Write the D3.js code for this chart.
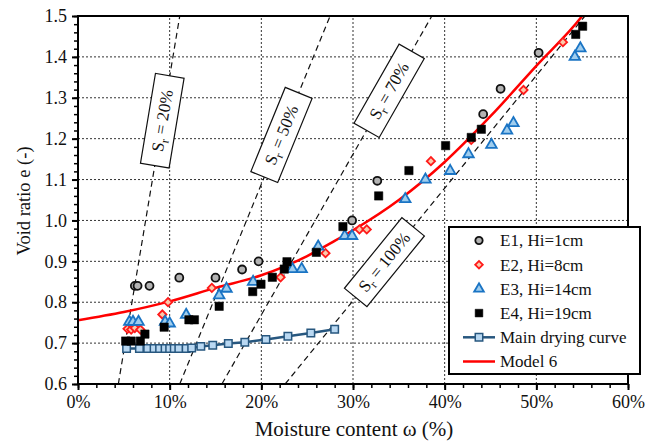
<!DOCTYPE html>
<html>
<head>
<meta charset="utf-8">
<script src="https://cdn.jsdelivr.net/npm/d3@7"></script>
<style>
body{margin:0;background:#fff;}
text{font-family:"Liberation Serif","Times New Roman",serif;fill:#111;}
</style>
</head>
<body>
<script>
// moisture content (%) , void ratio
var e1 = [[6.2,0.84],[6.5,0.84],[7.8,0.84],[11.05,0.86],[15.0,0.86],[17.9,0.88],[19.7,0.90],
          [29.9,1.0],[32.65,1.097],[44.2,1.26],[46.1,1.322],[50.25,1.41]];
var e2 = [[5.4,0.735],[5.8,0.733],[6.2,0.737],[6.8,0.733],[9.2,0.77],[9.82,0.80],[14.6,0.835],
          [22.1,0.861],[27.0,0.92],[30.7,0.978],[31.5,0.978],[38.5,1.145],[42.9,1.197],
          [48.6,1.319],[52.9,1.436]];
var e3 = [[5.6,0.752],[6.0,0.752],[6.6,0.752],[9.5,0.752],[10.0,0.748],[11.8,0.769],[15.4,0.817],
          [16.2,0.833],[19.1,0.85],[23.4,0.881],[24.4,0.881],[26.2,0.936],[29.1,0.962],[29.9,0.962],
          [35.7,1.052],[37.9,1.1],[40.6,1.121],[42.6,1.162],[45.1,1.185],[46.8,1.22],[47.5,1.238],
          [54.2,1.40],[54.8,1.421]];
var e4 = [[5.2,0.705],[5.8,0.705],[6.8,0.705],[7.3,0.722],[9.4,0.739],[12.1,0.757],[12.7,0.757],
          [15.4,0.79],[19.06,0.826],[19.96,0.844],[21.2,0.861],[22.5,0.881],[22.8,0.899],[26.0,0.922],
          [28.9,0.985],[32.8,1.06],[36.1,1.122],[40.1,1.183],[42.9,1.203],[44.0,1.223],
          [54.3,1.455],[55.05,1.475]];
var mainDrying = [[5.3,0.687],[6.7,0.687],[7.6,0.687],[8.3,0.687],[8.9,0.687],[9.5,0.687],[10.0,0.687],
          [10.5,0.687],[11.0,0.687],[11.8,0.687],[12.4,0.688],[13.4,0.692],[14.7,0.695],[16.4,0.699],
          [18.2,0.702],[20.5,0.709],[22.9,0.717],[25.4,0.725],[28.0,0.734]];
var model6 = [[0,0.756],[5,0.776],[10,0.802],[15,0.835],[20,0.866],[25,0.913],[28,0.95],[30,0.976],
          [35,1.05],[40,1.143],[45,1.255],[50,1.378],[55,1.5],[56,1.53]];
// saturation lines: w at e=0.6 and w at e=1.5, label position (e)
var srValues = [20,50,70,100];
var srW0 = [4.4,11.1,15.7,22.6];
var srW1 = [11.1,27.5,38.6,55.3];
var srLabelE = [1.244,1.209,1.317,0.898];
var xTicks = [0,10,20,30,40,50,60];
var yTicks = [0.6,0.7,0.8,0.9,1.0,1.1,1.2,1.3,1.4,1.5];
var legendNames = ["E1, Hi=1cm","E2, Hi=8cm","E3, Hi=14cm","E4, Hi=19cm","Main drying curve","Model 6"];

var svg = d3.select("body").append("svg").attr("width",656).attr("height",444);
var x = d3.scaleLinear().domain([0,60]).range([78,628]);
var y = d3.scaleLinear().domain([0.6,1.5]).range([384,16]);

svg.append("defs").append("clipPath").attr("id","plot")
    .append("rect").attr("x",78).attr("y",16).attr("width",550).attr("height",368);

// grid
var grid = svg.append("g").attr("stroke","#333").attr("stroke-width",1).attr("stroke-dasharray","2,2");
grid.selectAll(".gx").data(xTicks.slice(1,-1)).enter().append("line")
    .attr("x1",d=>x(d)).attr("x2",d=>x(d)).attr("y1",y(0.6)).attr("y2",y(1.5));
grid.selectAll(".gy").data(yTicks.slice(1,-1)).enter().append("line")
    .attr("y1",d=>y(d)).attr("y2",d=>y(d)).attr("x1",x(0)).attr("x2",x(60));

// minor ticks
svg.append("g").attr("transform","translate(0,384)")
    .call(d3.axisBottom(x).tickValues(d3.range(0,61,2)).tickSize(4).tickFormat(""))
    .call(g=>g.select(".domain").remove()).selectAll("line").attr("stroke-width",1.5);
svg.append("g").attr("transform","translate(78,0)")
    .call(d3.axisLeft(y).tickValues(d3.range(60,151,2).map(d=>d/100)).tickSize(4).tickFormat(""))
    .call(g=>g.select(".domain").remove()).selectAll("line").attr("stroke-width",1.5);

// major axes
var xAxis = svg.append("g").attr("transform","translate(0,384)")
    .call(d3.axisBottom(x).tickValues(xTicks).tickSize(6).tickPadding(5).tickFormat(d=>d+"%"));
var yAxis = svg.append("g").attr("transform","translate(78,0)")
    .call(d3.axisLeft(y).tickValues(yTicks).tickSize(6).tickPadding(5).tickFormat(d3.format(".1f")));
[xAxis,yAxis].forEach(function(a){
    a.select(".domain").remove();
    a.selectAll("line").attr("stroke-width",2);
    a.selectAll("text").style("font-family","Liberation Serif").style("font-size","18px").attr("fill","#222");
});

// saturation lines
var srG = svg.append("g").attr("clip-path","url(#plot)");
srValues.forEach(function(sr,i){
    srG.append("line")
        .attr("x1",x(srW0[i])).attr("y1",y(0.6)).attr("x2",x(srW1[i])).attr("y2",y(1.5))
        .attr("stroke","#111").attr("stroke-width",1.2).attr("stroke-dasharray","6,4");
});

// model 6
svg.append("path").datum(model6).attr("clip-path","url(#plot)")
    .attr("fill","none").attr("stroke","#ff0000").attr("stroke-width",2.5)
    .attr("d",d3.line().x(d=>x(d[0])).y(d=>y(d[1])).curve(d3.curveMonotoneX));

// main drying curve
svg.append("path").datum(mainDrying).attr("fill","none").attr("stroke","#27577f").attr("stroke-width",2.5)
    .attr("d",d3.line().x(d=>x(d[0])).y(d=>y(d[1])));

function marks(data, type, size, fill, stroke, sw, rot){
    svg.append("g").selectAll("path").data(data).enter().append("path")
        .attr("d",d3.symbol().type(type).size(size)())
        .attr("transform",d=>"translate("+x(d[0])+","+y(d[1])+")"+(rot?" rotate(45)":""))
        .attr("fill",fill).attr("stroke",stroke).attr("stroke-width",sw);
}
var styles = [
    [d3.symbolCircle,50,"#b3b3b3","#111",1.8,false],
    [d3.symbolSquare,34,"#fbc9ab","#ff1a1a",1.8,true],
    [d3.symbolTriangle,48,"#9fcdee","#1a74c4",1.8,false],
    [d3.symbolSquare,70,"#000","#000",0.5,false]
];
marks(mainDrying,d3.symbolSquare,56,"#b9d8f2","#27577f",1.5,false);
[e1,e2,e3,e4].forEach(function(s,i){
    var st = styles[i];
    marks(s,st[0],st[1],st[2],st[3],st[4],st[5]);
});

// frame
svg.append("rect").attr("x",78).attr("y",16).attr("width",550).attr("height",368)
    .attr("fill","none").attr("stroke","#000").attr("stroke-width",2);

// saturation labels
srValues.forEach(function(sr,i){
    var e = srLabelE[i];
    var w = srW0[i] + (e-0.6)/0.9*(srW1[i]-srW0[i]);
    var ang = Math.atan2(y(1.5)-y(0.6), x(srW1[i])-x(srW0[i]))*180/Math.PI;
    var g = svg.append("g").attr("transform","translate("+x(w)+","+y(e)+") rotate("+ang+")");
    g.append("rect").attr("x",-45.5).attr("y",-14.5).attr("width",91).attr("height",29)
        .attr("fill","#fff").attr("stroke","#111").attr("stroke-width",1.2);
    var t = g.append("text").attr("text-anchor","middle").attr("dy","0.33em").style("font-size","17px");
    t.append("tspan").text("S");
    t.append("tspan").attr("dy","4").style("font-size","12px").text("r");
    t.append("tspan").attr("dy","-4").text(" = "+sr+"%");
});

// axis titles
svg.append("text").attr("x",354).attr("y",436).attr("text-anchor","middle")
    .style("font-size","21px").text("Moisture content \u03c9 (%)");
svg.append("text").attr("transform","translate(30,201) rotate(-90)").attr("text-anchor","middle")
    .style("font-size","18.5px").text("Void ratio e (-)");

// legend
var lg = svg.append("g");
lg.append("rect").attr("x",449).attr("y",227).attr("width",191).attr("height",147)
    .attr("fill","#fff").attr("stroke","#000").attr("stroke-width",2);
legendNames.forEach(function(name,i){
    var ry = 240.5 + i*24.2;
    if(i<4){
        var st = styles[i];
        lg.append("path").attr("d",d3.symbol().type(st[0]).size(st[1]*0.85)())
            .attr("transform","translate(479,"+ry+")"+(st[5]?" rotate(45)":""))
            .attr("fill",st[2]).attr("stroke",st[3]).attr("stroke-width",st[4]);
    } else if(i==4){
        lg.append("line").attr("x1",463).attr("x2",495).attr("y1",ry).attr("y2",ry)
            .attr("stroke","#27577f").attr("stroke-width",2.5);
        lg.append("path").attr("d",d3.symbol().type(d3.symbolSquare).size(56)())
            .attr("transform","translate(479,"+ry+")")
            .attr("fill","#b9d8f2").attr("stroke","#27577f").attr("stroke-width",1.5);
    } else {
        lg.append("line").attr("x1",463).attr("x2",495).attr("y1",ry).attr("y2",ry)
            .attr("stroke","#ff0000").attr("stroke-width",2.5);
    }
    lg.append("text").attr("x",500).attr("y",ry).attr("dy","0.35em").style("font-size","17px").text(name);
});
</script>
</body>
</html>
